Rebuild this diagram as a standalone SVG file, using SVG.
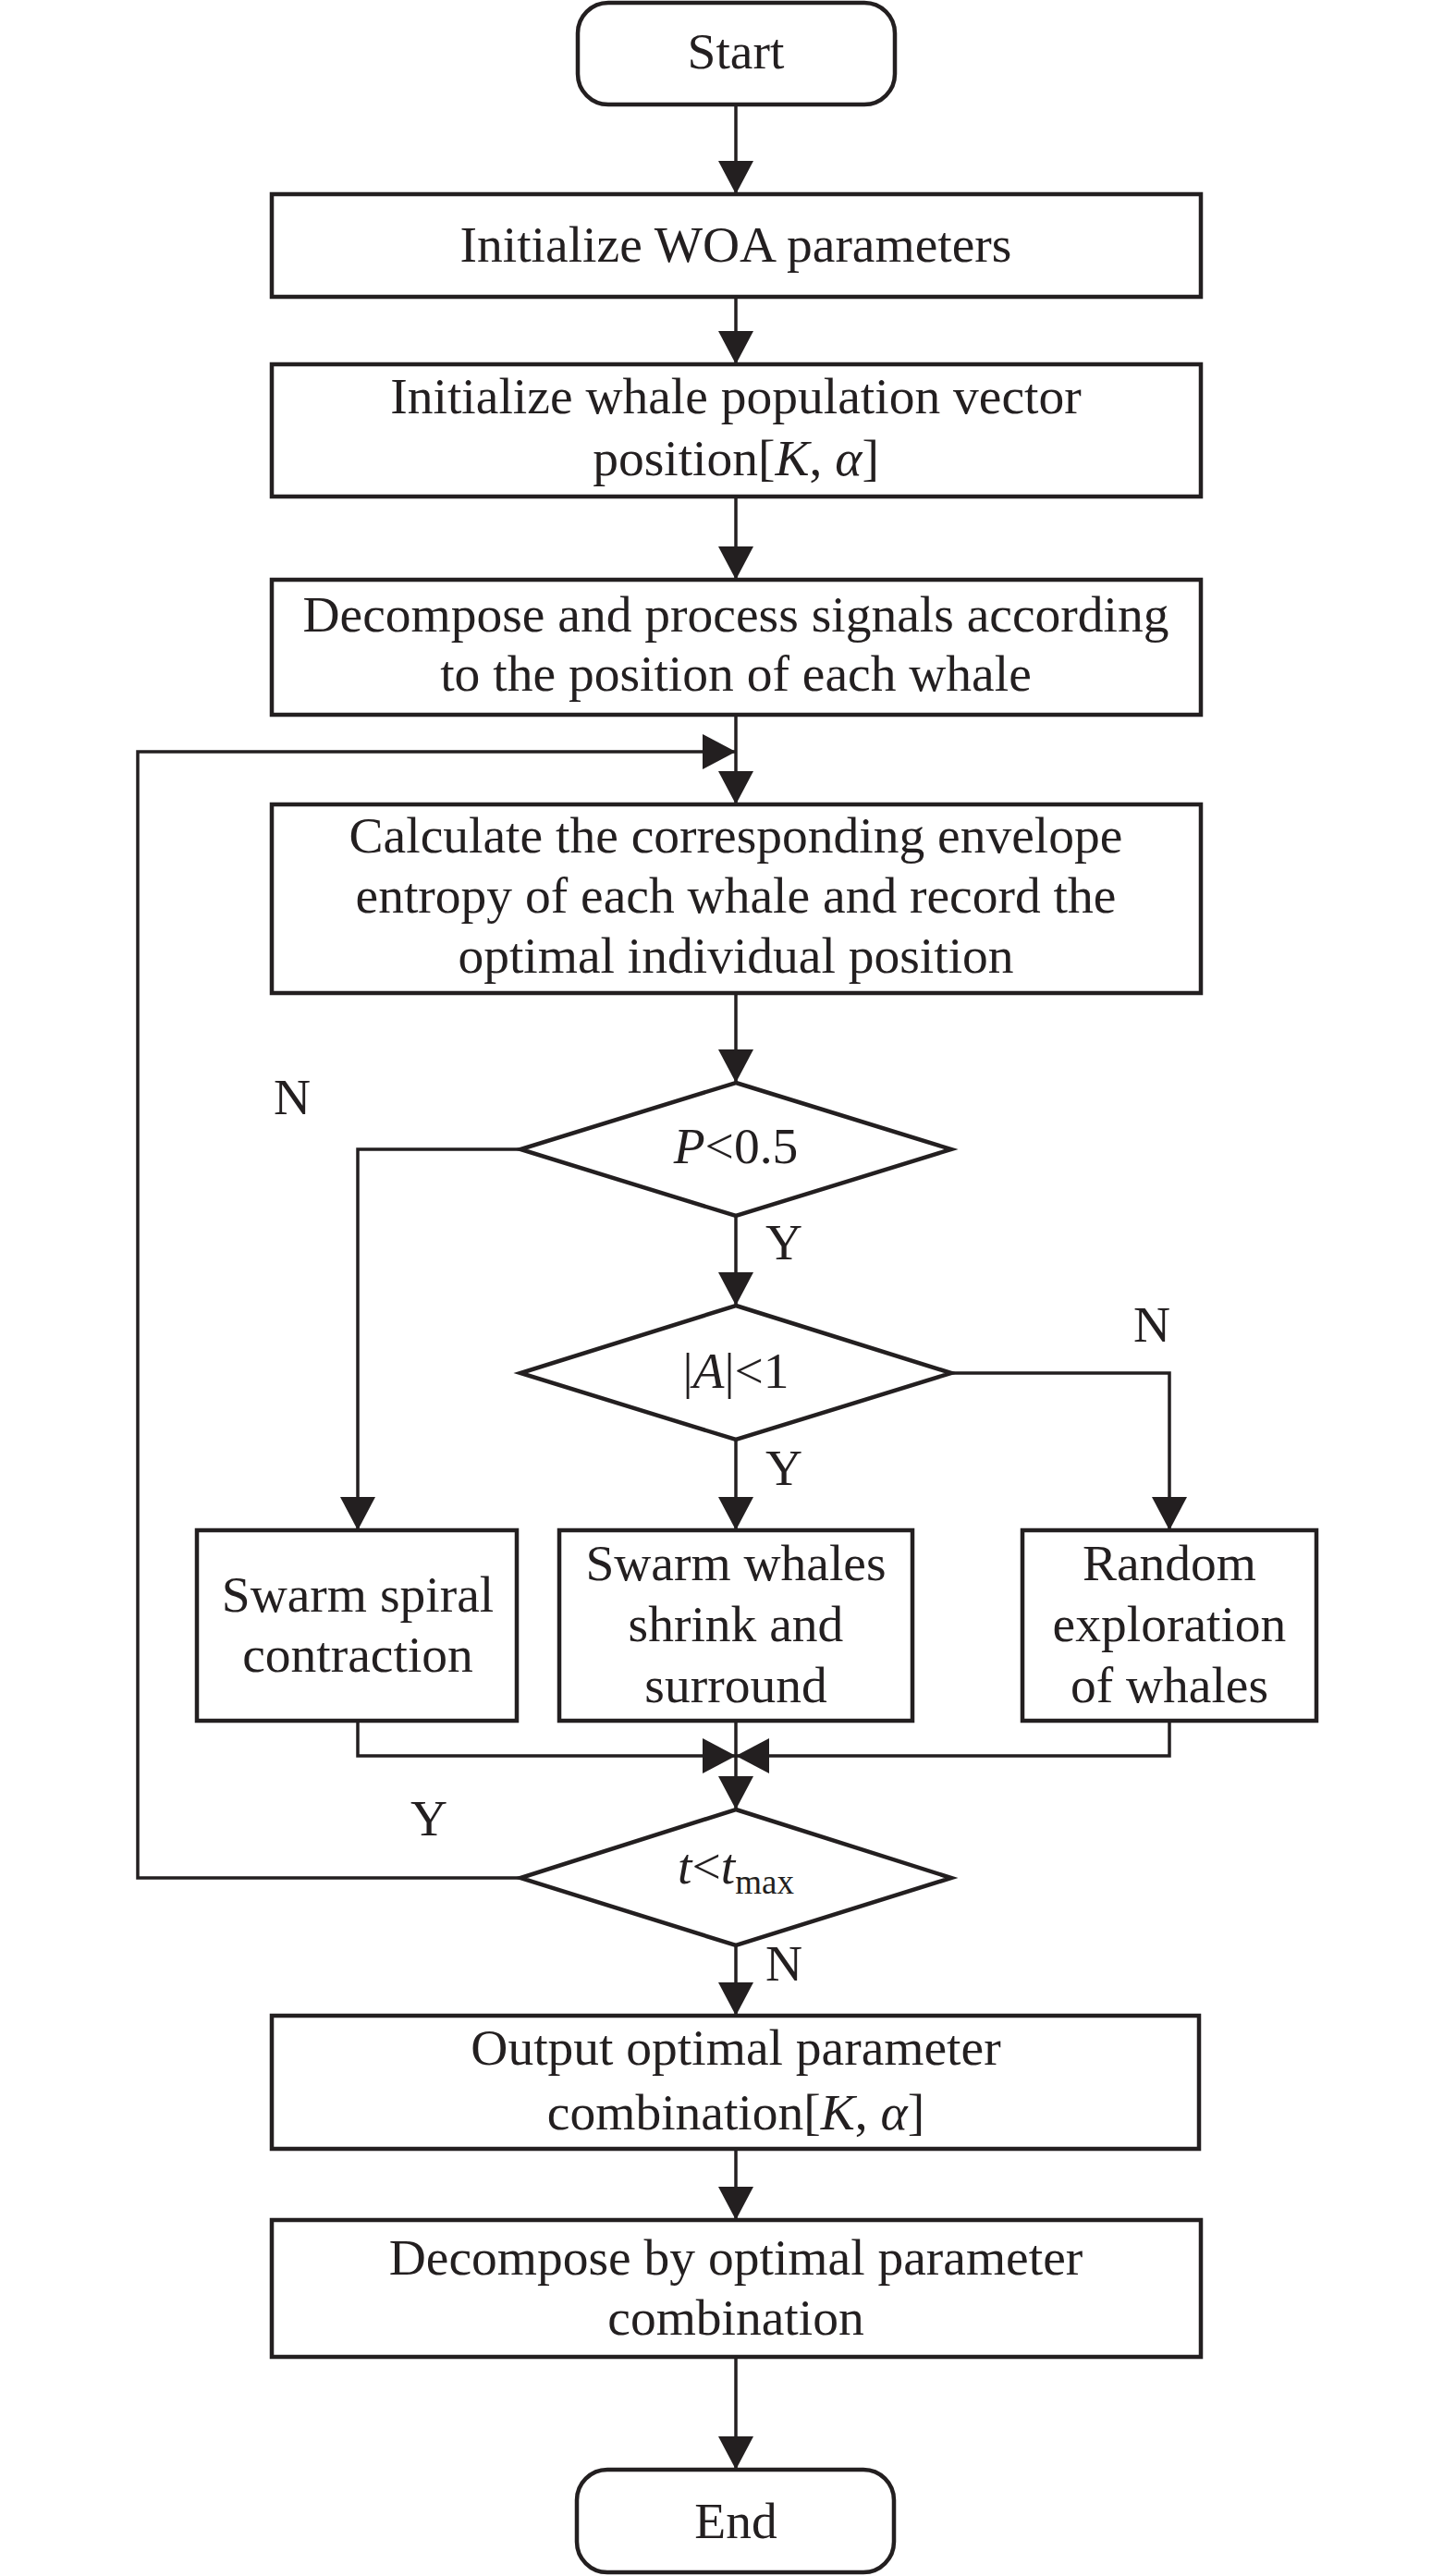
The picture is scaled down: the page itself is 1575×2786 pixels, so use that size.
<svg xmlns="http://www.w3.org/2000/svg" width="1575" height="2786" viewBox="0 0 1575 2786">
<style>
.box{fill:#fff;stroke:#231f20;stroke-width:4.5}
.dia{fill:#fff;stroke:#231f20;stroke-width:4.5;stroke-linejoin:miter}
.ln{fill:none;stroke:#231f20;stroke-width:3.5}
.t{font-family:"Liberation Serif","Times New Roman",serif;font-size:55.5px;fill:#231f20;text-anchor:middle}
.i{font-style:italic}
.s{font-size:37px}
</style>
<defs>
<marker id="ah" markerUnits="userSpaceOnUse" viewBox="0 0 36 38" markerWidth="36" markerHeight="38" refX="36" refY="19" orient="auto">
<path d="M0,0 L36,19 L0,38 Z" fill="#231f20"/>
</marker>
</defs>
<rect width="1575" height="2786" fill="#fff"/>
<g id="connectors">
<line class="ln" x1="796" y1="113" x2="796" y2="210" marker-end="url(#ah)"/>
<line class="ln" x1="796" y1="321" x2="796" y2="394" marker-end="url(#ah)"/>
<line class="ln" x1="796" y1="537" x2="796" y2="627" marker-end="url(#ah)"/>
<line class="ln" x1="796" y1="773" x2="796" y2="870" marker-end="url(#ah)"/>
<line class="ln" x1="796" y1="1074" x2="796" y2="1171" marker-end="url(#ah)"/>
<polyline class="ln" points="563,1243 387,1243 387,1655" marker-end="url(#ah)"/>
<line class="ln" x1="796" y1="1315" x2="796" y2="1412" marker-end="url(#ah)"/>
<line class="ln" x1="796" y1="1557" x2="796" y2="1655" marker-end="url(#ah)"/>
<polyline class="ln" points="1029,1485 1265,1485 1265,1655" marker-end="url(#ah)"/>
<polyline class="ln" points="387,1861 387,1899 796,1899" marker-end="url(#ah)"/>
<polyline class="ln" points="1265,1861 1265,1899 796,1899" marker-end="url(#ah)"/>
<line class="ln" x1="796" y1="1861" x2="796" y2="1957" marker-end="url(#ah)"/>
<polyline class="ln" points="563,2031 149,2031 149,813 796,813" marker-end="url(#ah)"/>
<line class="ln" x1="796" y1="2104" x2="796" y2="2180" marker-end="url(#ah)"/>
<line class="ln" x1="796" y1="2324" x2="796" y2="2401" marker-end="url(#ah)"/>
<line class="ln" x1="796" y1="2549" x2="796" y2="2671" marker-end="url(#ah)"/>
<text class="t" x="316" y="1205">N</text>
<text class="t" x="848" y="1362">Y</text>
<text class="t" x="1246" y="1451">N</text>
<text class="t" x="848" y="1606">Y</text>
<text class="t" x="464" y="1985">Y</text>
<text class="t" x="848" y="2142">N</text>
</g>
<g id="start">
<rect class="box" x="625" y="3" width="343" height="110" rx="33"/>
<text class="t" x="796" y="74">Start</text>
</g>
<g id="init-params">
<rect class="box" x="294" y="210" width="1005" height="111"/>
<text class="t" x="796" y="283">Initialize WOA parameters</text>
</g>
<g id="init-population">
<rect class="box" x="294" y="394" width="1005" height="143"/>
<text class="t" x="796" y="447">Initialize whale population vector</text>
<text class="t" x="796" y="514">position[<tspan class="i">K</tspan>, <tspan class="i">α</tspan>]</text>
</g>
<g id="decompose-process">
<rect class="box" x="294" y="627" width="1005" height="146"/>
<text class="t" x="796" y="683">Decompose and process signals according</text>
<text class="t" x="796" y="747">to the position of each whale</text>
</g>
<g id="calc-entropy">
<rect class="box" x="294" y="870" width="1005" height="204"/>
<text class="t" x="796" y="922">Calculate the corresponding envelope</text>
<text class="t" x="796" y="987">entropy of each whale and record the</text>
<text class="t" x="796" y="1052">optimal individual position</text>
</g>
<g id="p-check">
<polygon class="dia" points="796,1171 1029,1243 796,1315 563,1243"/>
<text class="t" x="796" y="1258"><tspan class="i">P</tspan>&lt;0.5</text>
</g>
<g id="a-check">
<polygon class="dia" points="796,1412 1029,1485 796,1557 563,1485"/>
<text class="t" x="796" y="1501">|<tspan class="i">A</tspan>|&lt;1</text>
</g>
<g id="spiral">
<rect class="box" x="213" y="1655" width="346" height="206"/>
<text class="t" x="387" y="1743">Swarm spiral</text>
<text class="t" x="387" y="1808">contraction</text>
</g>
<g id="shrink">
<rect class="box" x="605" y="1655" width="382" height="206"/>
<text class="t" x="796" y="1709">Swarm whales</text>
<text class="t" x="796" y="1775">shrink and</text>
<text class="t" x="796" y="1841">surround</text>
</g>
<g id="random">
<rect class="box" x="1106" y="1655" width="318" height="206"/>
<text class="t" x="1265" y="1709">Random</text>
<text class="t" x="1265" y="1775">exploration</text>
<text class="t" x="1265" y="1841">of whales</text>
</g>
<g id="t-check">
<polygon class="dia" points="796,1957 1029,2031 796,2104 563,2031"/>
<text class="t" x="796" y="2037"><tspan class="i">t</tspan>&lt;<tspan class="i">t</tspan><tspan class="s" dy="11">max</tspan></text>
</g>
<g id="output">
<rect class="box" x="294" y="2180" width="1003" height="144"/>
<text class="t" x="796" y="2233">Output optimal parameter</text>
<text class="t" x="796" y="2303">combination[<tspan class="i">K</tspan>, <tspan class="i">α</tspan>]</text>
</g>
<g id="final-decompose">
<rect class="box" x="294" y="2401" width="1005" height="148"/>
<text class="t" x="796" y="2460">Decompose by optimal parameter</text>
<text class="t" x="796" y="2525">combination</text>
</g>
<g id="end">
<rect class="box" x="624" y="2671" width="343" height="111" rx="33"/>
<text class="t" x="796" y="2745">End</text>
</g>
</svg>
